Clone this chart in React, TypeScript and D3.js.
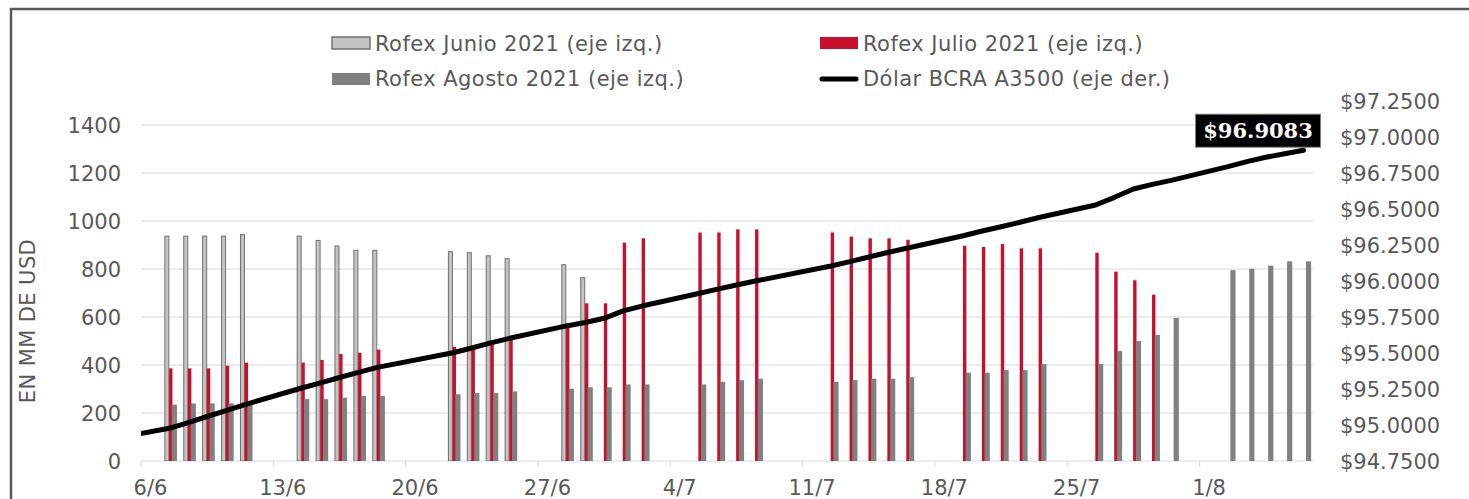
import React from "react";
import * as d3 from "d3";

// ruedas operadas (incluye 4/6 solo para que la linea entre por el borde)
const fechas = [
  "2021-06-04", "2021-06-07", "2021-06-08", "2021-06-09", "2021-06-10", "2021-06-11",
  "2021-06-14", "2021-06-15", "2021-06-16", "2021-06-17", "2021-06-18",
  "2021-06-22", "2021-06-23", "2021-06-24", "2021-06-25",
  "2021-06-28", "2021-06-29", "2021-06-30", "2021-07-01", "2021-07-02",
  "2021-07-05", "2021-07-06", "2021-07-07", "2021-07-08",
  "2021-07-12", "2021-07-13", "2021-07-14", "2021-07-15", "2021-07-16",
  "2021-07-19", "2021-07-20", "2021-07-21", "2021-07-22", "2021-07-23",
  "2021-07-26", "2021-07-27", "2021-07-28", "2021-07-29", "2021-07-30",
  "2021-08-02", "2021-08-03", "2021-08-04", "2021-08-05", "2021-08-06",
];

const rofexJunio = [
  null, 937, 937, 937, 937, 943,
  937, 919, 896, 878, 878,
  872, 868, 855, 843,
  818, 764, null, null, null,
  null, null, null, null,
  null, null, null, null, null,
  null, null, null, null, null,
  null, null, null, null, null,
  null, null, null, null, null,
];

const rofexJulio = [
  null, 386, 386, 386, 397, 410,
  410, 421, 446, 451, 464,
  476, 468, 488, 505,
  560, 657, 657, 910, 928,
  952, 952, 965, 965,
  952, 935, 928, 928, 922,
  897, 892, 904, 886, 886,
  868, 789, 753, 693, null,
  null, null, null, null, null,
];

const rofexAgosto = [
  null, 235, 240, 240, 240, 243,
  258, 258, 264, 271, 271,
  278, 283, 283, 290,
  301, 307, 307, 319, 319,
  319, 330, 337, 343,
  330, 337, 343, 343, 349,
  368, 368, 379, 379, 404,
  404, 458, 500, 525, 596,
  795, 801, 814, 832, 832,
];

const dolarA3500 = [
  94.905, 94.977, 95.017, 95.059, 95.1, 95.142,
  95.257, 95.292, 95.33, 95.365, 95.4,
  95.502, 95.535, 95.57, 95.602,
  95.688, 95.712, 95.741, 95.792, 95.826,
  95.913, 95.944, 95.972, 96.0,
  96.104, 96.135, 96.167, 96.198, 96.227,
  96.314, 96.347, 96.377, 96.408, 96.441,
  96.528, 96.581, 96.639, 96.671, 96.699,
  96.794, 96.829, 96.859, 96.884, 96.9083,
];

const ticksIzq = [0, 200, 400, 600, 800, 1000, 1200, 1400];
const ticksDer = [94.75, 95, 95.25, 95.5, 95.75, 96, 96.25, 96.5, 96.75, 97, 97.25];

const leyenda = [
  "Rofex Junio 2021 (eje izq.)",
  "Rofex Julio 2021 (eje izq.)",
  "Rofex Agosto 2021 (eje izq.)",
  "Dólar BCRA A3500 (eje der.)",
];

const FONT = "DejaVu Sans";
const GRIS_TXT = "#595959";
const ROJO = "#c8102e";

export default function App() {
  React.useEffect(() => {
    document.body.style.margin = "0";
  }, []);

  const width = 1469;
  const height = 499;
  const m = { left: 141, right: 1313, top: 101, bottom: 461 };

  const parse = d3.utcParse("%Y-%m-%d");
  const dias = fechas.map((f) => parse(f));

  const x = d3
    .scaleUtc()
    .domain([Date.UTC(2021, 5, 6), Date.UTC(2021, 7, 7)])
    .range([m.left, m.right]);
  const dayW = x(Date.UTC(2021, 5, 7)) - x(Date.UTC(2021, 5, 6));
  const centro = (d) => x(d) + dayW / 2;

  const yIzq = d3.scaleLinear().domain([0, 1500]).range([m.bottom, m.top]);
  const yDer = d3.scaleLinear().domain([94.75, 97.25]).range([m.bottom, m.top]);

  const xTicks = x.ticks(d3.utcSunday);
  const fmtFecha = d3.utcFormat("%-d/%-m");
  const fmtDolar = (v) => "$" + d3.format(".4f")(v);

  const series = [
    { valores: rofexJunio, dx: -4.5, w: 4, fill: "#c4c4c4", stroke: "#707070" },
    { valores: rofexJulio, dx: -0.3, w: 3.4, fill: ROJO, stroke: "none" },
    { valores: rofexAgosto, dx: 2.4, w: 5.2, fill: "#808080", stroke: "none" },
  ];

  const linea = d3
    .line()
    .x((d, i) => centro(dias[i]))
    .y((d) => yDer(d));

  const ultimo = dolarA3500.length - 1;
  const px = centro(dias[ultimo]);
  const py = yDer(dolarA3500[ultimo]);

  const leyTxt = { fontSize: 21, fill: GRIS_TXT, letterSpacing: 0.45 };

  return (
    <svg
      width={width}
      height={height}
      style={{ display: "block", position: "absolute", left: 0, top: 0 }}
      fontFamily={FONT}
    >
      <rect width={width} height={height} fill="#fff" />
      <defs>
        <clipPath id="plotClip">
          <rect x={m.left} y={m.top - 20} width={m.right - m.left} height={m.bottom - m.top + 20} />
        </clipPath>
      </defs>

      {/* marco */}
      <rect x={11} y={9} width={width + 20} height={height + 20} fill="none" stroke="#595959" strokeWidth={2.5} />

      {/* grilla */}
      {ticksIzq.slice(1).map((t) => (
        <line key={t} x1={m.left} x2={m.right} y1={yIzq(t)} y2={yIzq(t)} stroke="#d9d9d9" strokeWidth={1} />
      ))}

      {/* eje x */}
      <line x1={m.left} x2={m.right} y1={m.bottom} y2={m.bottom} stroke="#d9d9d9" strokeWidth={1} />
      {xTicks.map((t) => (
        <g key={+t}>
          <line x1={x(t)} x2={x(t)} y1={m.bottom} y2={m.bottom + 6} stroke="#d9d9d9" />
          <text x={centro(t)} y={495} textAnchor="middle" fontSize={21} fill={GRIS_TXT}>
            {fmtFecha(t)}
          </text>
        </g>
      ))}

      {/* eje izquierdo */}
      {ticksIzq.map((t) => (
        <text key={t} x={121} y={yIzq(t)} dy="0.36em" textAnchor="end" fontSize={21} fill={GRIS_TXT}>
          {t}
        </text>
      ))}
      <text
        transform={`translate(35,321) rotate(-90)`}
        textAnchor="middle"
        fontSize={21}
        fill={GRIS_TXT}
        letterSpacing={0.4}
      >
        EN MM DE USD
      </text>

      {/* eje derecho */}
      {ticksDer.map((t) => (
        <text key={t} x={1340} y={yDer(t)} dy="0.36em" textAnchor="start" fontSize={21} fill={GRIS_TXT}>
          {fmtDolar(t)}
        </text>
      ))}

      {/* barras y linea */}
      <g clipPath="url(#plotClip)">
        {series.map((s, si) =>
          s.valores.map((v, i) =>
            v == null ? null : (
              <rect
                key={si + "-" + i}
                x={centro(dias[i]) + s.dx}
                y={yIzq(v)}
                width={s.w}
                height={yIzq(0) - yIzq(v)}
                fill={s.fill}
                stroke={s.stroke}
                strokeWidth={s.stroke === "none" ? 0 : 1}
              />
            )
          )
        )}
        <path
          d={linea(dolarA3500)}
          fill="none"
          stroke="#000"
          strokeWidth={5}
          strokeLinejoin="round"
          strokeLinecap="round"
        />
      </g>

      {/* etiqueta ultimo dato */}
      <rect x={px - 108} y={py - 36} width={125} height={33} fill="#000" stroke="#7f7f7f" strokeWidth={1} />
      <text
        x={px - 45.5}
        y={py - 19.5}
        dy="0.36em"
        textAnchor="middle"
        fontFamily="DejaVu Serif"
        fontWeight="bold"
        fontSize={21}
        fill="#fff"
      >
        {fmtDolar(dolarA3500[ultimo])}
      </text>

      {/* leyenda */}
      <rect x={332} y={37} width={38} height={12} fill="#c4c4c4" stroke="#707070" strokeWidth={1.5} />
      <text x={375} y={50.5} {...leyTxt}>{leyenda[0]}</text>
      <rect x={820} y={37} width={38} height={12} fill={ROJO} />
      <text x={863} y={50.5} {...leyTxt}>{leyenda[1]}</text>
      <rect x={332} y={73} width={38} height={12} fill="#808080" />
      <text x={375} y={85.5} {...leyTxt}>{leyenda[2]}</text>
      <line x1={822} x2={856} y1={79} y2={79} stroke="#000" strokeWidth={5} strokeLinecap="round" />
      <text x={863} y={85.5} {...leyTxt}>{leyenda[3]}</text>
    </svg>
  );
}
